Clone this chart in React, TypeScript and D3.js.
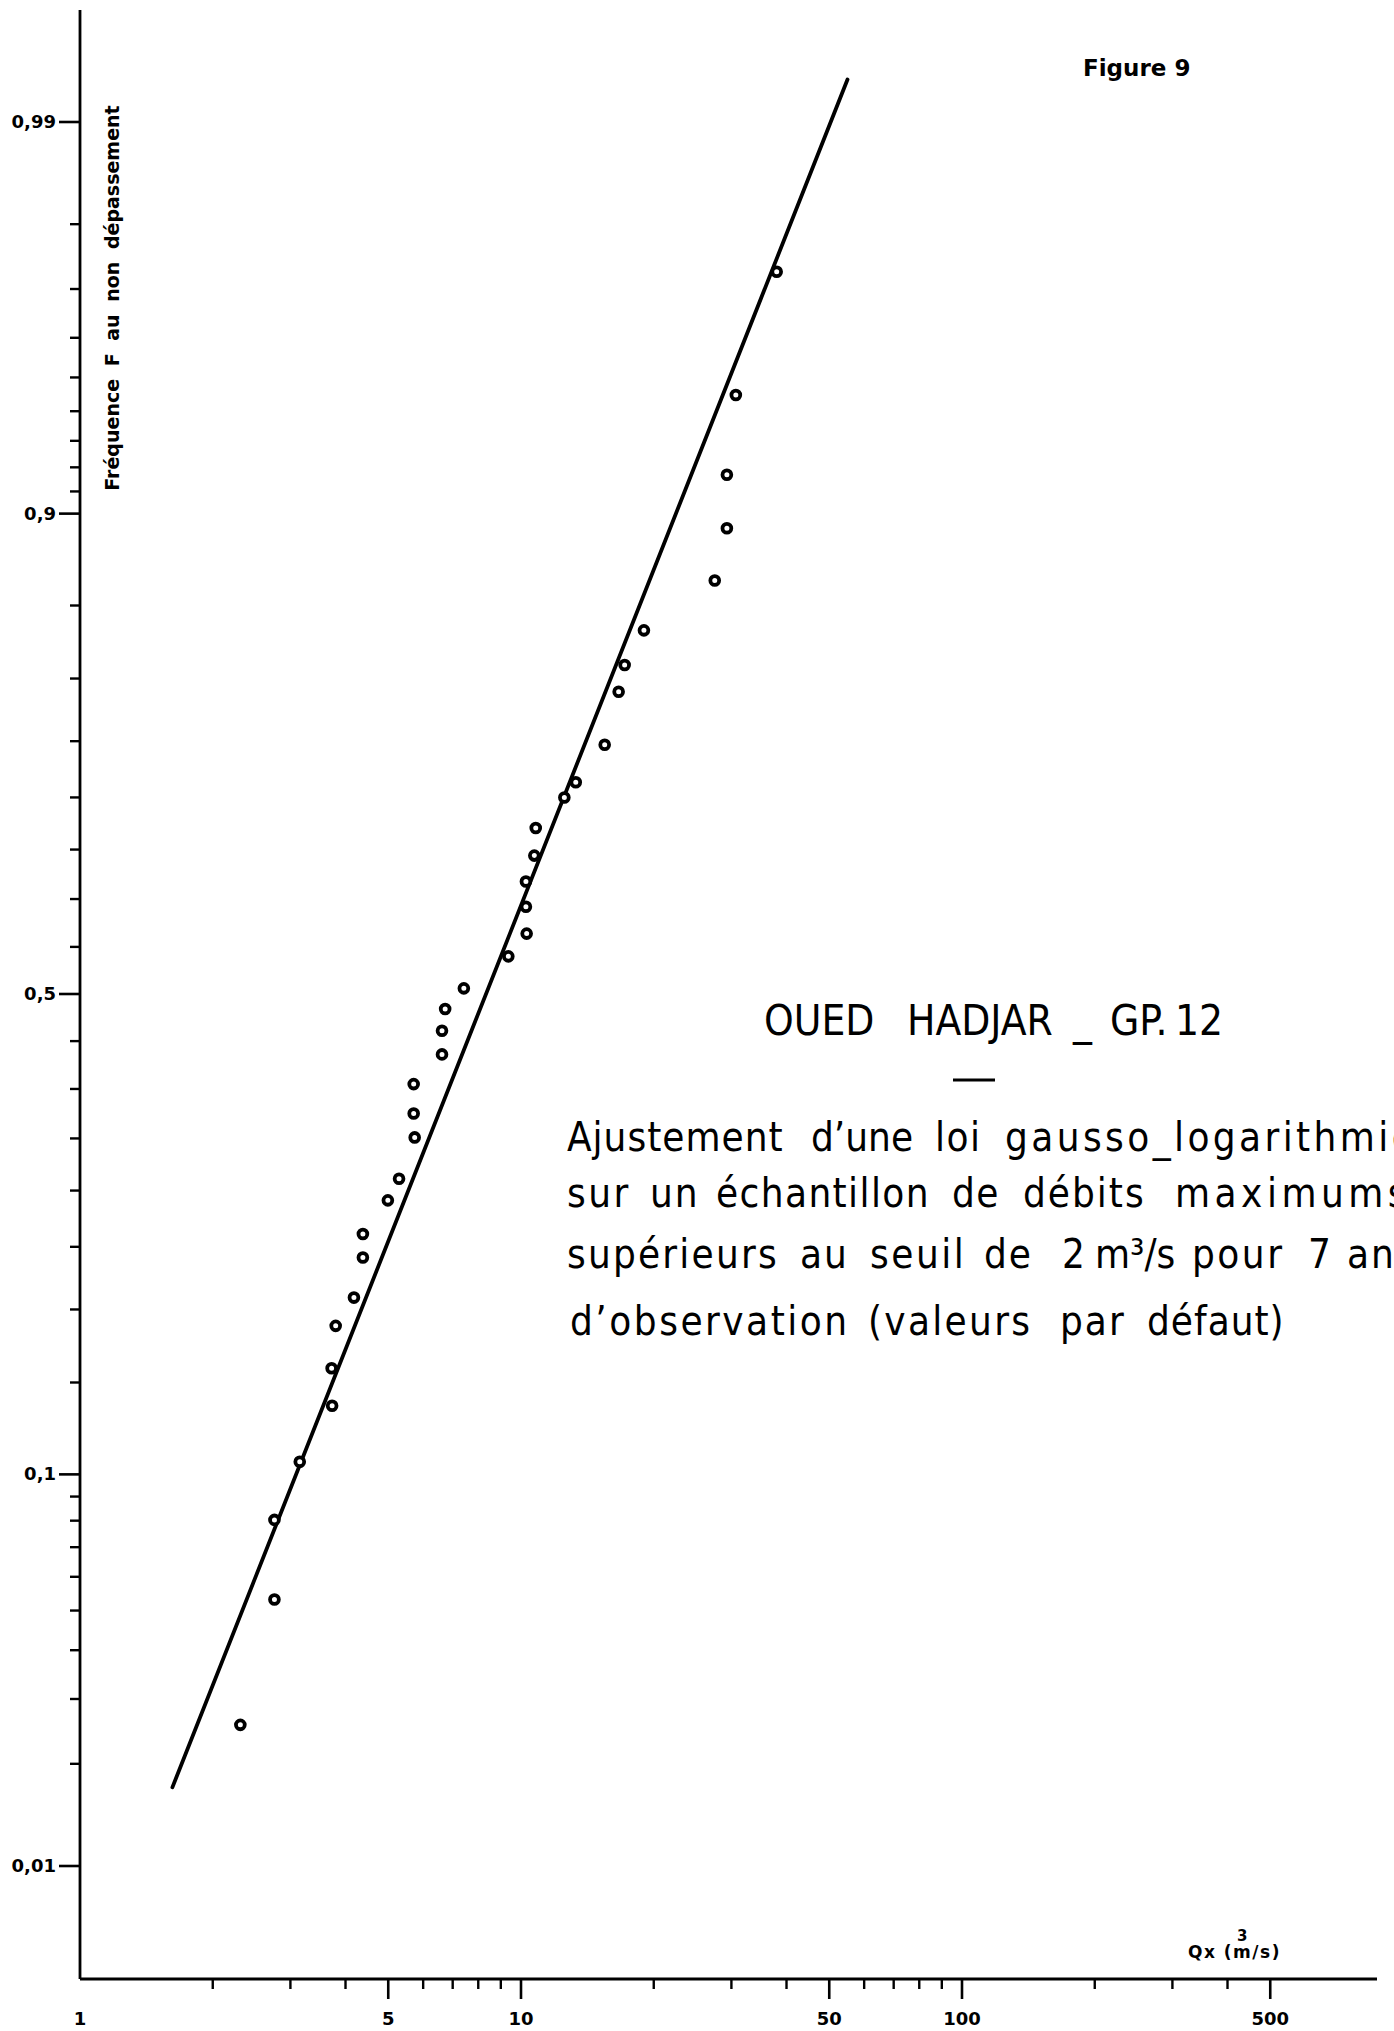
import React from "react";
import * as d3 from "d3";

const W = 1394;
const H = 2031;

// Ranked peak discharges above the 2 m3/s threshold (m3/s)
const discharges = [
  2.31, 2.76, 2.76, 3.15, 3.73, 3.72, 3.8, 4.18, 4.38, 4.38, 4.99, 5.29, 5.74, 5.71,
  5.71, 6.62, 6.62, 6.73, 7.42, 9.36, 10.3, 10.26, 10.26, 10.72, 10.8, 12.54, 13.31,
  15.48, 16.65, 17.18, 19.0, 27.5, 29.3, 29.3, 30.7, 38.0,
];
// Empirical non-exceedance frequencies of the ranked sample
const frequencies = [
  0.0256, 0.0531, 0.0803, 0.106, 0.136, 0.159, 0.188, 0.209, 0.241, 0.261, 0.291,
  0.311, 0.351, 0.375, 0.405, 0.436, 0.461, 0.484, 0.506, 0.54, 0.564, 0.592, 0.618,
  0.644, 0.671, 0.7, 0.714, 0.747, 0.79, 0.81, 0.834, 0.865, 0.893, 0.917, 0.945, 0.973,
];

// Fitted log-normal law: median (m3/s) and standard deviation of log10 Q
const fitMedian = 8.33;
const fitSigmaLog10 = 0.336;
const fitRange = [1.62, 55];

// Probability axis
const yMajorTicks = [0.01, 0.1, 0.5, 0.9, 0.99];
const yMajorLabels = ["0,01", "0,1", "0,5", "0,9", "0,99"];
const yMinorTicks = [
  0.02, 0.03, 0.04, 0.05, 0.06, 0.07, 0.08, 0.09,
  0.15, 0.2, 0.25, 0.3, 0.35, 0.4, 0.45,
  0.55, 0.6, 0.65, 0.7, 0.75, 0.8, 0.85,
  0.91, 0.92, 0.93, 0.94, 0.95, 0.96, 0.97, 0.98,
];

// Discharge axis (log)
const xMajorTicks = [5, 10, 50, 100, 500];
const xMinorTicks = [2, 3, 4, 6, 7, 8, 9, 20, 30, 40, 60, 70, 80, 90, 200, 300, 400];
const xLabels = [1, 5, 10, 50, 100, 500];

// Inverse of the standard normal CDF (Acklam's rational approximation)
function probit(p: number): number {
  const a = [-39.69683028665376, 220.9460984245205, -275.9285104469687, 138.357751867269, -30.66479806614716, 2.506628277459239];
  const b = [-54.47609879822406, 161.5858368580409, -155.6989798598866, 66.80131188771972, -13.28068155288572];
  const c = [-0.007784894002430293, -0.3223964580411365, -2.400758277161838, -2.549732539343734, 4.374664141464968, 2.938163982698783];
  const d = [0.007784695709041462, 0.3224671290700398, 2.445134137142996, 3.754408661907416];
  const plow = 0.02425;
  if (p < plow) {
    const q = Math.sqrt(-2 * Math.log(p));
    return (((((c[0] * q + c[1]) * q + c[2]) * q + c[3]) * q + c[4]) * q + c[5]) /
      ((((d[0] * q + d[1]) * q + d[2]) * q + d[3]) * q + 1);
  }
  if (p <= 1 - plow) {
    const q = p - 0.5;
    const r = q * q;
    return ((((((a[0] * r + a[1]) * r + a[2]) * r + a[3]) * r + a[4]) * r + a[5]) * q) /
      (((((b[0] * r + b[1]) * r + b[2]) * r + b[3]) * r + b[4]) * r + 1);
  }
  const q = Math.sqrt(-2 * Math.log(1 - p));
  return -(((((c[0] * q + c[1]) * q + c[2]) * q + c[3]) * q + c[4]) * q + c[5]) /
    ((((d[0] * q + d[1]) * q + d[2]) * q + d[3]) * q + 1);
}

const AXIS_X = 80;
const AXIS_Y = 1979;

const x = d3.scaleLog().domain([1, 100]).range([AXIS_X, 962]);
const yz = d3.scaleLinear().domain([probit(0.01), probit(0.99)]).range([1866, 122]);
const y = (f: number) => yz(probit(f));

// Title words with their start positions
const titleWords: [string, number][] = [
  ["OUED", 764], ["HADJAR", 907], ["_", 1073], ["GP.", 1110], ["12", 1175],
];

// Annotation block, one entry per line: words, start positions, letter spacing
const bodyLines: { y: number; words: [string, number, number][] }[] = [
  { y: 1151, words: [["Ajustement", 567, 1], ["d\u2019une", 811, 0], ["loi", 935, 1.5], ["gausso_logarithmique", 1005, 3.4]] },
  { y: 1207, words: [["sur", 567, 2.5], ["un", 650, 2], ["\u00e9chantillon", 716, 1.4], ["de", 952, 1.5], ["d\u00e9bits", 1023, 2], ["maximums", 1175, 4.5]] },
  { y: 1268, words: [["sup\u00e9rieurs", 567, 2.2], ["au", 800, 2], ["seuil", 870, 2.5], ["de", 984, 2], ["2", 1062, 0], ["m\u00b3/s", 1095, 0], ["pour", 1192, 2.5], ["7", 1308, 0], ["ans", 1347, 2]] },
  { y: 1335, words: [["d\u2019observation", 570, 2.5], ["(valeurs", 868, 2.3], ["par", 1060, 2], ["d\u00e9faut)", 1147, 1]] },
];

const LABEL_FONT = "'DejaVu Sans', sans-serif";
const BODY_FONT = "'DejaVu Sans Condensed', 'DejaVu Sans', sans-serif";

export default function App() {
  const fitZ = (q: number) => (Math.log10(q) - Math.log10(fitMedian)) / fitSigmaLog10;
  const fitLine = d3.line<number>()
    .x((q) => x(q))
    .y((q) => yz(fitZ(q)));

  const points = discharges.map((q, i) => ({ q, f: frequencies[i] }));

  return (
    <svg
      width={W}
      height={H}
      viewBox={`0 0 ${W} ${H}`}
      style={{ position: "absolute", left: 0, top: 0, background: "#fff" }}
    >
      <rect x={0} y={0} width={W} height={H} fill="#fff" />

      {/* axes */}
      <line x1={AXIS_X} y1={10} x2={AXIS_X} y2={AXIS_Y} stroke="#000" strokeWidth={2.8} />
      <line x1={AXIS_X} y1={AXIS_Y} x2={1377} y2={AXIS_Y} stroke="#000" strokeWidth={2.8} />

      {/* probability ticks */}
      {yMinorTicks.map((f) => (
        <line key={"ym" + f} x1={AXIS_X - 10} x2={AXIS_X} y1={y(f)} y2={y(f)} stroke="#000" strokeWidth={2.4} />
      ))}
      {yMajorTicks.map((f, i) => (
        <g key={"yM" + f}>
          <line x1={AXIS_X - 21} x2={AXIS_X} y1={y(f)} y2={y(f)} stroke="#000" strokeWidth={2.6} />
          <text
            x={56}
            y={y(f) + 6}
            textAnchor="end"
            fontFamily={LABEL_FONT}
            fontWeight="bold"
            fontSize={18}
          >
            {yMajorLabels[i]}
          </text>
        </g>
      ))}

      {/* discharge ticks */}
      {xMinorTicks.map((q) => (
        <line key={"xm" + q} x1={x(q)} x2={x(q)} y1={AXIS_Y} y2={AXIS_Y + 10} stroke="#000" strokeWidth={2.4} />
      ))}
      {xMajorTicks.map((q) => (
        <line key={"xM" + q} x1={x(q)} x2={x(q)} y1={AXIS_Y} y2={AXIS_Y + 20} stroke="#000" strokeWidth={2.6} />
      ))}
      {xLabels.map((q) => (
        <text
          key={"xl" + q}
          x={x(q)}
          y={2025}
          textAnchor="middle"
          fontFamily={LABEL_FONT}
          fontWeight="bold"
          fontSize={18}
        >
          {q}
        </text>
      ))}

      {/* axis titles */}
      <text
        transform="translate(119, 298) rotate(-90)"
        textAnchor="middle"
        fontFamily={LABEL_FONT}
        fontWeight="bold"
        fontSize={19}
        wordSpacing={6}
      >
        Fréquence F au non dépassement
      </text>
      <text x={1188} y={1958} fontFamily={LABEL_FONT} fontWeight="bold" fontSize={17} letterSpacing={1.5}>
        Qx (m/s)
      </text>
      <text x={1237} y={1941} fontFamily={LABEL_FONT} fontWeight="bold" fontSize={15}>
        3
      </text>

      <text x={1083} y={76} fontFamily={LABEL_FONT} fontWeight="bold" fontSize={23}>
        Figure 9
      </text>

      {/* fitted law */}
      <path d={fitLine(fitRange) || ""} fill="none" stroke="#000" strokeWidth={3.8} strokeLinecap="round" />

      {/* sample */}
      {points.map((p, i) => (
        <circle key={"p" + i} cx={x(p.q)} cy={y(p.f)} r={4.4} fill="#fff" stroke="#000" strokeWidth={3.8} />
      ))}

      {/* annotation */}
      <text y={1035} fontFamily={BODY_FONT} fontSize={42}>
        {titleWords.map(([w, wx], wi) => (
          <tspan key={wi} x={wx}>
            {w}
          </tspan>
        ))}
      </text>
      <line x1={953} x2={995} y1={1080} y2={1080} stroke="#000" strokeWidth={3} />
      {bodyLines.map((line, li) => (
        <text key={"bl" + li} y={line.y} fontFamily={BODY_FONT} fontSize={40}>
          {line.words.map(([w, wx, ls], wi) => (
            <tspan key={wi} x={wx} letterSpacing={ls}>
              {w}
            </tspan>
          ))}
        </text>
      ))}
    </svg>
  );
}
